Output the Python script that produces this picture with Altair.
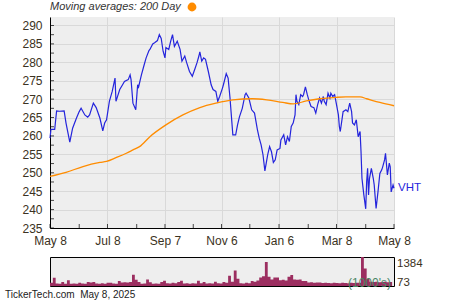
import altair as alt
import pandas as pd

# ---------------- data ----------------
START = pd.Timestamp("2024-05-08")

# VHT close: days after May 8 2024, price
price_days = [0, 1, 5, 7, 10, 15, 17, 21, 24, 28, 31, 33, 37, 40, 42, 46, 49, 53, 56, 58,
              60, 63, 66, 69, 70, 74, 77, 79, 83, 85, 86, 88, 91, 93, 94, 97, 100, 102, 105, 106,
              109, 111, 114, 116, 118, 120, 122, 123, 126, 128, 130, 132, 135, 138, 140, 143, 145, 148, 151, 154,
              156, 158, 159, 161, 163, 165, 168, 171, 173, 176, 178, 180, 183, 184, 187, 189, 191, 194, 197, 199,
              201, 204, 207, 208, 211, 214, 217, 220, 222, 224, 226, 228, 231, 233, 235, 237, 239, 241, 244, 245,
              248, 250, 252, 254, 256, 258, 260, 261, 262, 264, 266, 268, 269, 271, 273, 275, 277, 280, 282, 284,
              286, 288, 290, 291, 293, 295, 297, 298, 300, 302, 304, 306, 307, 308, 311, 314, 316, 318, 320, 321,
              323, 325, 327, 329, 330, 331, 333, 335, 336, 337, 338, 339, 341, 343, 344, 346, 348, 350, 352, 353,
              355, 356, 358, 360, 361, 362, 364, 365]
price_vals = [259.4, 261.8, 261.8, 266.8, 266.7, 266.8, 263.5, 258.3, 262.1, 264.8, 266.6, 267.5, 265.7, 265.1, 265.7, 268.9, 267.7, 264.8, 261.4, 263.5,
              264.4, 269.4, 272.1, 275.7, 269.4, 272.6, 273.9, 274.8, 275.3, 276.6, 275.3, 268.9, 267.1, 273.9, 273.3, 276.6, 279.4, 281.2, 283.2, 283.5,
              285.0, 285.3, 285.9, 287.5, 286.5, 283.0, 281.2, 284.0, 283.5, 285.7, 287.5, 284.3, 285.7, 283.5, 280.3, 281.7, 279.9, 277.5, 276.2, 278.4,
              279.9, 281.7, 282.8, 280.3, 281.2, 280.8, 277.5, 273.9, 272.6, 272.1, 269.4, 270.7, 273.0, 273.9, 276.9, 275.7, 270.3, 260.3, 260.3, 263.0,
              265.2, 267.5, 271.2, 271.6, 270.3, 267.1, 266.2, 261.8, 259.4, 257.6, 254.9, 250.5, 254.9, 257.1, 255.7, 252.8, 253.5, 256.2, 256.6, 258.9,
              260.3, 257.6, 259.8, 258.5, 262.6, 263.5, 265.7, 271.2, 269.4, 268.5, 271.2, 270.7, 271.2, 273.3, 271.2, 269.4, 268.0, 267.7, 266.2, 268.5,
              270.3, 268.9, 270.7, 269.4, 268.5, 271.6, 270.3, 271.6, 270.7, 271.2, 268.5, 265.7, 262.6, 261.2, 266.6, 267.1, 266.6, 268.9, 266.6, 263.5,
              263.0, 264.4, 259.8, 261.2, 255.8, 248.5, 244.0, 240.2, 247.6, 251.2, 244.0, 248.5, 251.2, 248.5, 246.7, 240.3, 244.8, 249.8, 250.8, 251.6,
              253.5, 255.3, 249.4, 252.6, 251.6, 244.8, 246.7, 245.8]

# 200-day moving average
ma_days = [0, 17, 35, 53, 60, 70, 81, 88, 95, 106, 123, 141, 159, 176, 194, 215, 230, 247, 258, 272, 286, 304, 314, 329, 336, 350, 365]
ma_vals = [249.0, 250.1, 251.7, 252.8, 253.1, 254.1, 255.3, 256.2, 257.1, 259.8, 263.0, 265.7, 267.7, 268.9, 269.8, 270.1, 269.8, 269.1, 268.7,
           269.5, 270.1, 270.5, 270.6, 270.6, 270.1, 269.1, 268.2]

# volume (1000's), one reading per 3-day slot from May 8 2024
VOL_SLOT_DAYS = 3
vol_vals = [150, 390, 120, 110, 190, 110, 280, 110, 120, 110, 150, 120, 110, 190, 170, 190, 120, 110, 130, 110,
            150, 150, 120, 110, 240, 170, 180, 170, 190, 535, 300, 190, 110, 120, 315, 180, 110, 120, 110, 190,
            250, 130, 120, 150, 130, 190, 250, 120, 130, 110, 130, 120, 250, 130, 190, 120, 130, 120, 200, 130,
            120, 190, 150, 490, 200, 740, 350, 130, 120, 160, 130, 240, 200, 260, 400, 470, 1150, 440, 310, 400,
            400, 280, 300, 260, 440, 520, 310, 300, 310, 240, 240, 170, 180, 160, 170, 170, 140, 150, 140, 130,
            150, 140, 130, 150, 140, 130, 150, 140, 160, 150, 1384, 830, 330, 200, 190, 200, 180, 190, 200, 180,
            190, 170]

x_major = [(2024, 5, 8), (2024, 7, 8), (2024, 9, 7), (2024, 11, 6), (2025, 1, 6), (2025, 3, 8), (2025, 5, 8)]
x_minor = ["2024-05-08", "2024-06-08", "2024-07-08", "2024-08-08", "2024-09-07", "2024-10-07", "2024-11-06",
           "2024-12-06", "2025-01-06", "2025-02-06", "2025-03-08", "2025-04-08", "2025-05-08"]
y_major = [235, 240, 245, 250, 255, 260, 265, 270, 275, 280, 285, 290]
y_minor = [235, 237.5, 240, 242.5, 245, 247.5, 250, 252.5, 255, 257.5, 260, 262.5, 265, 267.5, 270, 272.5,
           275, 277.5, 280, 282.5, 285, 287.5, 290]
y_domain = [235, 292.3]
vol_domain = [0, 1384]
vol_max_label = 1384
vol_min_label = 73

TICKER = "VHT"
MA_NAME = "200 Day"
FOOTER = "TickerTech.com\u00a0 May 8, 2025"

# ---------------- styles ----------------
FONT = "Liberation Sans"
BG = "#EEEEEE"
GRID = "#D9D9D9"
LAB = "#3B3222"
BLUE = "#2424DC"
ORANGE = "#FF8C00"
VOLC = "#9C2E60"
GREEN = "#4A8766"

# ---------------- frames ----------------
price_df = pd.DataFrame({"date": START + pd.to_timedelta(price_days, unit="D"), "price": price_vals})
ma_df = pd.DataFrame({"date": START + pd.to_timedelta(ma_days, unit="D"), "ma": ma_vals, "series": MA_NAME})
slot_start = START + pd.to_timedelta([i * VOL_SLOT_DAYS for i in range(len(vol_vals))], unit="D")
vol_df = pd.DataFrame({"d0": slot_start, "vol": vol_vals})
xtick_df = pd.DataFrame({"date": pd.to_datetime(x_minor)})
ytick_df = pd.DataFrame({"v": y_minor})
last_df = price_df.tail(1)
one_df = pd.DataFrame({"k": [0]})

def dt(t):
    return alt.DateTime(year=t[0], month=t[1], date=t[2])

x_dom = [dt(x_major[0]), dt(x_major[-1])]
x_scale = alt.Scale(domain=x_dom, nice=False)
y_scale = alt.Scale(domain=y_domain, nice=False, zero=False)
v_scale = alt.Scale(domain=vol_domain, nice=False)

x_axis = alt.Axis(values=[dt(t) for t in x_major], format="%b %-d", formatType="time", title=None,
                  grid=True, gridColor=GRID, ticks=False, domainColor="black", labelPadding=7,
                  labelFontSize=12, labelColor=LAB, labelFlush=False, labelOverlap=False)
y_axis = alt.Axis(values=y_major, title=None, grid=True, gridColor=GRID, ticks=False, domainColor="black",
                  labelPadding=8, labelFontSize=12, labelColor=LAB, labelOverlap=False, format="d")

def X(field=None, **kw):
    if field is not None:
        return alt.X(field, scale=x_scale, axis=x_axis)
    return alt.X(scale=x_scale, axis=x_axis, **kw)

def Y(field=None, **kw):
    if field is not None:
        return alt.Y(field, scale=y_scale, axis=y_axis)
    return alt.Y(scale=y_scale, axis=y_axis, **kw)

price = alt.Chart(price_df).mark_line(color=BLUE, strokeWidth=1.2).encode(x=X("date:T"), y=Y("price:Q"))

ma = alt.Chart(ma_df).mark_line(strokeWidth=1.3, interpolate="monotone").encode(
    x=X("date:T"), y=Y("ma:Q"),
    color=alt.Color("series:N", scale=alt.Scale(domain=[MA_NAME], range=[ORANGE]),
                    legend=alt.Legend(title="Moving averages: " + MA_NAME, orient="none", legendX=0, legendY=-15,
                                      titleOrient="left", titleFontStyle="italic", titleFontWeight="normal",
                                      titleFontSize=11, titleColor="#333333", titleFont=FONT, titlePadding=6,
                                      labelExpr="''", symbolType="circle", symbolFillColor=ORANGE,
                                      symbolStrokeWidth=0, symbolSize=78, padding=0)),
)

label = alt.Chart(last_df).mark_text(text=TICKER, align="left", baseline="middle", dx=4, color=BLUE,
                                     fontSize=11.5, font=FONT).encode(x=X("date:T"), y=Y("price:Q"))

xticks = alt.Chart(xtick_df).mark_tick(orient="vertical", size=4, yOffset=-2, color="black", thickness=1).encode(
    x=X("date:T"), y=Y(datum=y_domain[0], type="quantitative"))

yticks = alt.Chart(ytick_df).mark_tick(orient="horizontal", size=4, xOffset=2, color="black", thickness=1).encode(
    x=X(datum=dt(x_major[0]), type="temporal"), y=Y("v:Q"))

main = alt.layer(price, ma, label, xticks, yticks).properties(
    width=344, height=211, view=alt.ViewBackground(fill=BG, strokeWidth=0))

bars = alt.Chart(vol_df).mark_area(color=VOLC, interpolate="step-after", clip=True).encode(
    x=alt.X("d0:T", scale=x_scale, axis=None),
    y=alt.Y("vol:Q", scale=v_scale, axis=None),
)

unit_txt = alt.Chart(one_df).mark_text(text="(1000's)", align="right", baseline="alphabetic",
                                       dx=-3, dy=1, color=GREEN, fontSize=12, font=FONT).encode(
    x=alt.X(datum=dt(x_major[-1]), type="temporal", scale=x_scale, axis=None),
    y=alt.Y(datum=0, type="quantitative", scale=v_scale, axis=None))

max_txt = alt.Chart(one_df).mark_text(text=str(vol_max_label), align="left", baseline="top", dx=3, dy=1,
                                      color=LAB, fontSize=11.5, font=FONT).encode(
    x=alt.X(datum=dt(x_major[-1]), type="temporal", scale=x_scale, axis=None),
    y=alt.Y(datum=vol_max_label, type="quantitative", scale=v_scale, axis=None))

min_txt = alt.Chart(one_df).mark_text(text=str(vol_min_label), align="left", baseline="middle", dx=3, dy=-1,
                                      color=LAB, fontSize=11.5, font=FONT).encode(
    x=alt.X(datum=dt(x_major[-1]), type="temporal", scale=x_scale, axis=None),
    y=alt.Y(datum=vol_min_label, type="quantitative", scale=v_scale, axis=None))

volume = alt.layer(bars, unit_txt, max_txt, min_txt).properties(
    width=344, height=29, view=alt.ViewBackground(fill=BG, stroke="black", strokeWidth=1))

chart = alt.vconcat(main, volume, spacing=29, bounds="flush",
                    title=alt.Title(FOOTER, orient="bottom", anchor="start", frame="group", dx=-45, offset=0,
                                    fontSize=10, fontWeight="normal", color="#222222", font=FONT),
                    padding={"left": 5, "top": 2, "right": 5, "bottom": 2},
                    ).configure(font=FONT).configure_axis(labelFont=FONT, labelOverlap=False)

chart.save("out.html", embed_options={"renderer": "svg", "actions": False})
